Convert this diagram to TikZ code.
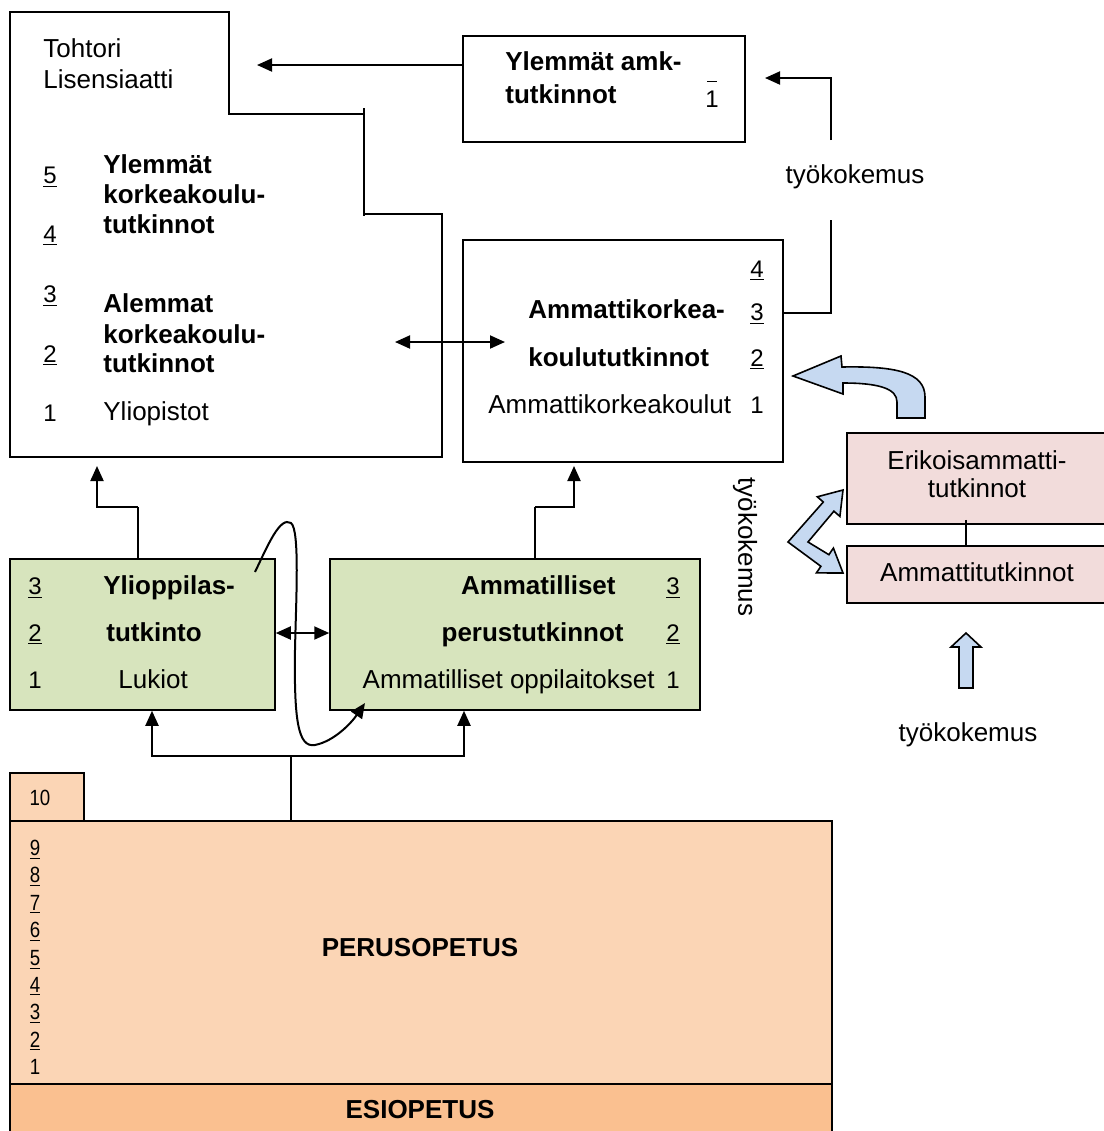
\documentclass[tikz,border=0pt]{standalone}
\usepackage{fontspec}
\setmainfont{Liberation Sans}
\usetikzlibrary{arrows.meta,fit,calc}
\definecolor{peach}{RGB}{251,213,181}
\definecolor{esio}{RGB}{250,192,144}
\definecolor{greenbox}{RGB}{215,228,189}
\definecolor{pinkbox}{RGB}{242,220,219}
\definecolor{arrowblue}{RGB}{198,217,241}
\begin{document}
\begin{tikzpicture}[x=0.5pt,y=-0.5pt,
  box/.style={draw=black,line width=0.75pt,inner sep=0pt},
  ln/.style={line width=1pt},
  arr/.style={line width=1pt,-{Triangle[length=7.5pt,width=6.5pt]}},
  darr/.style={line width=1pt,{Triangle[length=7.5pt,width=6.5pt]}-{Triangle[length=7.5pt,width=6.5pt]}},
  txt/.style={font=\fontsize{13}{15}\selectfont, inner sep=0pt},
  btxt/.style={font=\fontsize{13}{15}\selectfont\bfseries, inner sep=0pt},
  num/.style={font=\fontsize{12}{14}\selectfont, inner sep=0pt},
  snum/.style={font=\fontsize{11}{13}\selectfont, inner sep=0pt},
  blockarr/.style={fill=arrowblue,draw=black,line width=0.8pt,line join=miter},
]
\useasboundingbox (0,0) rectangle (1104,1131);

% ---------- university box ----------
\draw[line width=0.75pt] (10,12) coordinate (u1) -- (229,12) -- (229,114) -- (364,114)
  -- (364,214) -- (442,214) -- (442,457) -- (10,457) -- cycle;
\draw[line width=0.75pt] (364,108) -- (364,216);
\node[txt,anchor=base west] (tohtori) at (43,57) {Tohtori};
\node[txt,anchor=base west] (lis) at (43,88) {Lisensiaatti};
\node[num,anchor=base west] (u5) at (43,183) {\underline{5}};
\node[num,anchor=base west] (u4) at (43,242) {\underline{4}};
\node[num,anchor=base west] (u3) at (43,302) {\underline{3}};
\node[num,anchor=base west] (u2) at (43,362) {\underline{2}};
\node[num,anchor=base west] (u1n) at (43,421) {1};
\node[btxt,anchor=base west] (yl1) at (103,173) {Ylemmät};
\node[btxt,anchor=base west] (yl2) at (103,203) {korkeakoulu-};
\node[btxt,anchor=base west] (yl3) at (103,233) {tutkinnot};
\node[btxt,anchor=base west] (al1) at (103,312) {Alemmat};
\node[btxt,anchor=base west] (al2) at (103,343) {korkeakoulu-};
\node[btxt,anchor=base west] (al3) at (103,372) {tutkinnot};
\node[txt,anchor=base west] (ylio) at (103,420) {Yliopistot};

% ---------- Ylemmät amk box ----------
\node[box,fit={(463,36) (745,142)}] (ya) {};
\node[btxt,anchor=base west] (ya1) at (505,70) {Ylemmät amk-};
\node[btxt,anchor=base west] (ya2) at (505,103) {tutkinnot};
\node[num,anchor=base] (yan) at (712,107) {1};
\draw[line width=0.5pt] (707,81) -- (717,81);

% ---------- AMK box ----------
\node[box,fit={(463,240) (783,462)}] (amk) {};
\node[num,anchor=base] (a4) at (757,277) {\underline{4}};
\node[num,anchor=base] (a3) at (757,320) {\underline{3}};
\node[num,anchor=base] (a2) at (757,366) {\underline{2}};
\node[num,anchor=base] (a1) at (757,413) {1};
\node[btxt,anchor=base west] (ak1) at (528,318) {Ammattikorkea-};
\node[btxt,anchor=base west] (ak2) at (528,366) {koulututkinnot};
\node[txt,anchor=base west] (ak3) at (488,413) {Ammattikorkeakoulut};

% ---------- green boxes ----------
\node[box,fill=greenbox,fit={(10,559) (275,710)}] (lk) {};
\node[box,fill=greenbox,fit={(330,559) (700,710)}] (am) {};
\node[num,anchor=base] (l3) at (35,594) {\underline{3}};
\node[num,anchor=base] (l2) at (35,641) {\underline{2}};
\node[num,anchor=base] (l1) at (35,688) {1};
\node[btxt,anchor=base west] (lt1) at (103,594) {Ylioppilas-};
\node[btxt,anchor=base west] (lt2) at (106,641) {tutkinto};
\node[txt,anchor=base west] (lt3) at (118,688) {Lukiot};
\node[num,anchor=base] (m3) at (673,594) {\underline{3}};
\node[num,anchor=base] (m2) at (673,641) {\underline{2}};
\node[num,anchor=base] (m1) at (673,688) {1};
\node[btxt,anchor=base east] (mt1) at (616,594) {Ammatilliset};
\node[btxt,anchor=base east] (mt2) at (624,641) {perustutkinnot};
\node[txt,anchor=base east] (mt3) at (655,688) {Ammatilliset oppilaitokset};

% ---------- pink boxes ----------
\node[box,fill=pinkbox,fit={(847,433) (1108,524)}] (eri) {};
\node[box,fill=pinkbox,fit={(847,546) (1108,603)}] (amt) {};
\node[txt,align=center,font=\fontsize{13}{14}\selectfont] (erit) at (977,474) {Erikoisammatti-\\tutkinnot};
\node[txt] (amtt) at (977,572) {Ammattitutkinnot};
\draw[ln] ($(eri.south -| 966,0)+(0,-5)$) -- (amt.north -| 966,0);

% ---------- basic education ----------
\node[box,fill=peach,fit={(10,773) (84,821)}] (ten) {};
\node[snum] (tent) at (40,798) {\scalebox{0.85}[1]{10}};
\node[box,fill=peach,fit={(10,821) (832,1084)}] (perus) {};
\node[box,fill=esio,fit={(10,1084) (832,1136)}] (esio) {};
\node[btxt] (perust) at (420,948) {PERUSOPETUS};
\node[btxt] (esiot) at (420,1110) {ESIOPETUS};
\foreach \n/\yy in {9/855,8/882,7/910,6/937,5/965,4/992,3/1019,2/1047}{
  \node[snum,anchor=base] (p\n) at (35,\yy) {\scalebox{0.85}[1]{\underline{\n}}};
}
\node[snum,anchor=base] (p1) at (35,1074) {\scalebox{0.85}[1]{1}};

% ---------- work experience labels ----------
\node[txt] (t1) at (855,177) {työkokemus};
\node[txt,rotate=-90] (t2) at (745,547) {työkokemus};
\node[txt] (t3) at (968,735) {työkokemus};

% ---------- connectors ----------
\coordinate (uniIn) at (257,65);
\draw[arr] (ya.west |- 0,65) -- (uniIn);
\draw[ln] (amk.east |- 0,313) -| (831,220);
\coordinate (yaIn) at (765,78);
\draw[arr] (831,140) |- (yaIn);
\coordinate (uniR) at (395,342);
\coordinate (amkL) at (505,342);
\draw[darr] (uniR) -- (amkL);

\draw[ln] (lk.north -| 138,0) -- (138,507);
\draw[ln] (am.north -| 535,0) -- (535,507);
\coordinate (uniB) at (97,466);
\coordinate (amkB) at (574,466);
\draw[arr] (138,507) -| (uniB);
\draw[arr] (535,507) -| (amkB);
\draw[darr] (lk.east |- 0,633) -- (am.west |- 0,633);

\draw[ln] (perus.north -| 291,0) -- (291,756);
\draw[arr] (291,756) -| (lk.south -| 152,0);
\draw[arr] (291,756) -| (am.south -| 464,0);

\coordinate (cs) at (255,572);
\coordinate (ce) at (365,703);
\draw[arr] (cs) .. controls (268,545) and (280,516) .. (291,523)
  .. controls (300,530) and (296,600) .. (295,650)
  .. controls (294,720) and (298,748) .. (315,745)
  .. controls (335,741) and (352,722) .. (ce);

% ---------- block arrows ----------
\draw[blockarr] (793,376) -- (841,356) -- (842,367)
  .. controls (895,366) and (925,372) .. (925,397) -- (925,418) -- (897,418) -- (897,402)
  .. controls (897,389) and (880,383) .. (843,383) -- (843,394) -- cycle;
\draw[blockarr] (788,542) -- (823.3,502.0) -- (817.3,496.8) -- (843,490) -- (839.9,516.4)
  -- (833.9,511.2) -- (808,542) -- (828.9,554.7) -- (833.4,548.1) -- (843,573)
  -- (816.4,572.9) -- (820.9,566.3) -- cycle;
\draw[blockarr] (966,633) -- (981,647) -- (973,647) -- (973,688) -- (959,688) -- (959,647) -- (951,647) -- cycle;
\end{tikzpicture}
\end{document}
